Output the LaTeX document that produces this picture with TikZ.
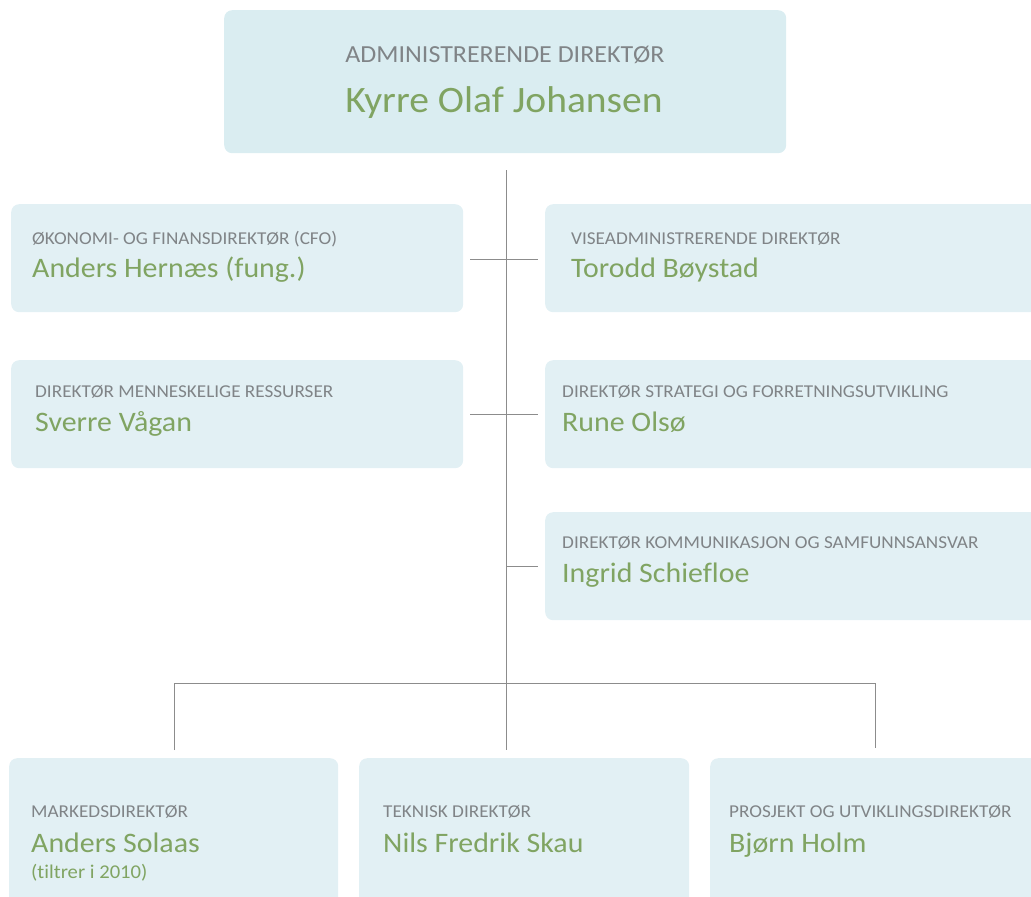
\documentclass[tikz,border=0pt]{standalone}
\usepackage{fontspec}
\setmainfont{Carlito}[FakeStretch=1.06, Ligatures={NoCommon}]
\definecolor{boxtop}{HTML}{DAEDF1}
\definecolor{boxfill}{HTML}{E2F0F4}
\definecolor{titlegray}{HTML}{808487}
\definecolor{namegreen}{HTML}{80A462}
\definecolor{linegray}{HTML}{8C8C8C}
\tikzset{
  unitbox/.style={fill=boxfill, rounded corners=8pt, inner sep=0pt, anchor=north west},
  roletitle/.style={text=titlegray, font=\fontsize{18.1}{18.1}\selectfont, inner sep=0pt, anchor=base west},
  rolename/.style={text=namegreen, font=\fontsize{28.2}{28.2}\selectfont, inner sep=0pt, anchor=base west},
  link/.style={draw=linegray, line width=0.8pt}
}
\begin{document}
\begin{tikzpicture}[x=1pt, y=-1pt]
\useasboundingbox (0,0) rectangle (1031,897);
\clip (0,0) rectangle (1031,897);
% boxes
\node[unitbox, fill=boxtop, minimum width=562, minimum height=143] (ceo) at (224,10) {};
\node[unitbox, minimum width=452, minimum height=108] (cfo) at (11,204) {};
\node[unitbox, minimum width=500, minimum height=108] (vice) at (545,204) {};
\node[unitbox, minimum width=452, minimum height=108] (hr) at (11,360) {};
\node[unitbox, minimum width=500, minimum height=108] (strat) at (545,360) {};
\node[unitbox, minimum width=500, minimum height=108] (comm) at (545,512) {};
\node[unitbox, minimum width=329, minimum height=160] (mark) at (9,758) {};
\node[unitbox, minimum width=330, minimum height=160] (tech) at (359,758) {};
\node[unitbox, minimum width=340, minimum height=160] (proj) at (710,758) {};
% texts
\node[roletitle, anchor=base, font=\fontsize{24.5}{24.5}\selectfont] (ceot) at (505,62) {ADMINISTRERENDE DIREKTØR};
\node[rolename, anchor=base, font=\fontsize{37.3}{37.3}\selectfont] (ceon) at (504,112) {Kyrre Olaf Johansen};
\node[roletitle] (cfot) at (32,244) {ØKONOMI- OG FINANSDIREKTØR (CFO)};
\node[rolename] (cfon) at (32,277) {Anders Hernæs (fung.)};
\node[roletitle] (vicet) at (571,244) {VISEADMINISTRERENDE DIREKTØR};
\node[rolename] (vicen) at (571,277) {Torodd Bøystad};
\node[roletitle] (hrt) at (35,397) {DIREKTØR MENNESKELIGE RESSURSER};
\node[rolename] (hrn) at (35,431) {Sverre Vågan};
\node[roletitle] (stratt) at (562,397) {DIREKTØR STRATEGI OG FORRETNINGSUTVIKLING};
\node[rolename] (stratn) at (562,431) {Rune Olsø};
\node[roletitle] (commt) at (562,548) {DIREKTØR KOMMUNIKASJON OG SAMFUNNSANSVAR};
\node[rolename] (commn) at (562,582) {Ingrid Schiefloe};
\node[roletitle] (markt) at (31,817) {MARKEDSDIREKTØR};
\node[rolename] (markn) at (31,852) {Anders Solaas};
\node[rolename, font=\fontsize{19.5}{19.5}\selectfont] (marknote) at (31,878) {(tiltrer i 2010)};
\node[roletitle] (techt) at (383,817) {TEKNISK DIREKTØR};
\node[rolename] (techn) at (383,852) {Nils Fredrik Skau};
\node[roletitle] (projt) at (729,817) {PROSJEKT OG UTVIKLINGSDIREKTØR};
\node[rolename] (projn) at (729,852) {Bjørn Holm};
% connectors
\coordinate (trunktop) at (506,170);
\coordinate (trunkbot) at (506,750);
\coordinate (cfoend) at (470,259);
\coordinate (viceend) at (538,259);
\coordinate (hrend) at (470,414);
\coordinate (stratend) at (538,414);
\coordinate (commjoin) at (506,566);
\coordinate (commend) at (538,566);
\coordinate (markjoin) at (174,683);
\coordinate (projjoin) at (875,683);
\coordinate (markend) at (174,750);
\coordinate (projend) at (875,748);
\draw[link] (trunktop) -- (trunkbot);
\draw[link] (cfoend) -- (viceend);
\draw[link] (hrend) -- (stratend);
\draw[link] (commjoin) -- (commend);
\draw[link] (markend) -- (markjoin) -- (projjoin) -- (projend);
\end{tikzpicture}
\end{document}
